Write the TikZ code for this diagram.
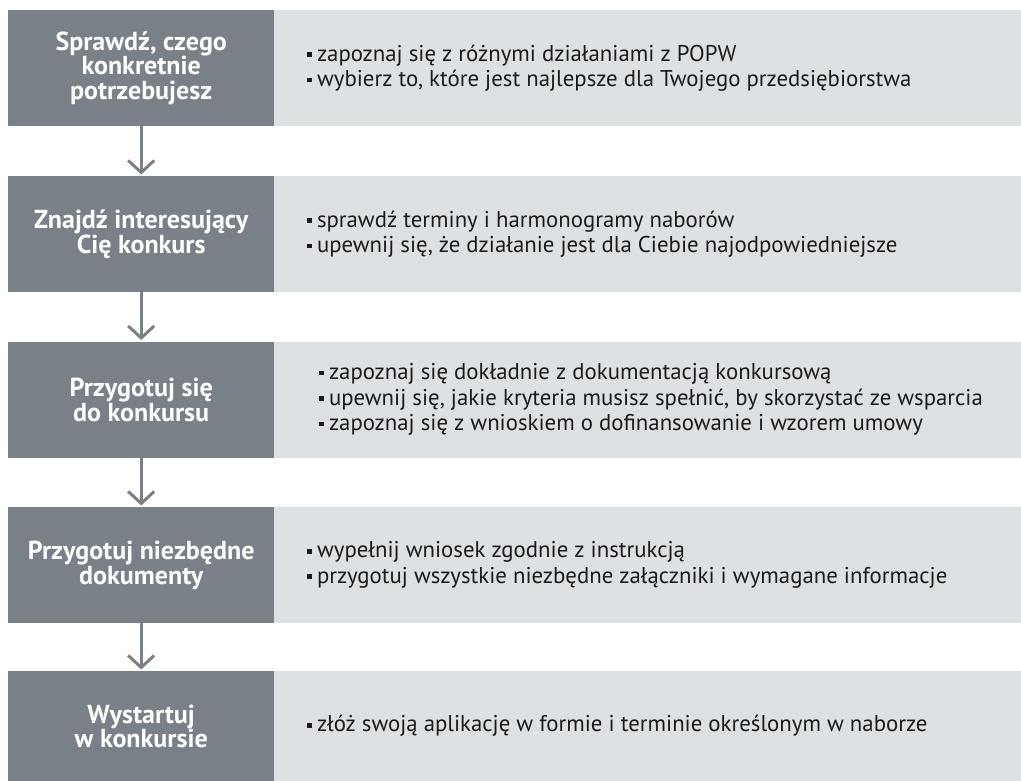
\documentclass[tikz,border=0pt]{standalone}
\usepackage{fontspec}
\setmainfont{PT Sans}
\usetikzlibrary{arrows.meta}
\definecolor{dark}{RGB}{122,128,135}
\definecolor{light}{RGB}{221,225,228}
\definecolor{ink}{RGB}{26,26,26}
\newcommand{\blt}{\rule[4.2pt]{4.8pt}{4.8pt}\hspace{5pt}}
\begin{document}
\begin{tikzpicture}[x=1pt,y=-1pt,
 leftbox/.style={fill=dark, draw=none, minimum width=266pt, minimum height=116pt, inner sep=0pt, text=white, font=\bfseries\fontsize{26}{24.5}\selectfont, align=center, anchor=north west},
 rightbox/.style={fill=light, draw=none, minimum width=747pt, minimum height=116pt, inner sep=0pt, anchor=north west},
 bullets/.style={text=ink, font=\fontsize{22.8}{25.5}\selectfont, align=left, anchor=west, inner sep=0pt},
 flow/.style={draw=dark, line width=3pt, -{Straight Barb[length=12pt,width=26pt]}, shorten >=1.5pt}
]
\useasboundingbox (0,0) rectangle (1021,781);

\node[rightbox] (R1) at (274,10) {};
\node[rightbox] (R2) at (274,176) {};
\node[rightbox] (R3) at (274,341.5) {};
\node[rightbox] (R4) at (274,507) {};
\node[rightbox, minimum height=110pt] (R5) at (274,671) {};

\node[leftbox] (L1) at (8,10) {Sprawdź, czego\\konkretnie\\potrzebujesz};
\node[leftbox] (L2) at (8,176) {Znajdź interesujący\\Cię konkurs};
\node[leftbox] (L3) at (8,341.5) {Przygotuj się\\do konkursu};
\node[leftbox] (L4) at (8,507) {Przygotuj niezbędne\\dokumenty};
\node[leftbox, minimum height=110pt] (L5) at (8,671) {Wystartuj\\w konkursie};

\node[bullets] (T1) at (307,68) {\blt zapoznaj się z różnymi działaniami z POPW\\\blt wybierz to, które jest najlepsze dla Twojego przedsiębiorstwa};
\node[bullets] (T2) at (307,234) {\blt sprawdź terminy i harmonogramy naborów\\\blt upewnij się, że działanie jest dla Ciebie najodpowiedniejsze};
\node[bullets] (T3) at (319,399.5) {\blt zapoznaj się dokładnie z dokumentacją konkursową\\\blt upewnij się, jakie kryteria musisz spełnić, by skorzystać ze wsparcia\\\blt zapoznaj się z wnioskiem o dofinansowanie i wzorem umowy};
\node[bullets] (T4) at (307,565) {\blt wypełnij wniosek zgodnie z instrukcją\\\blt przygotuj wszystkie niezbędne załączniki i wymagane informacje};
\node[bullets] (T5) at (307,726) {\blt złóż swoją aplikację w formie i terminie określonym w naborze};

\draw[flow] (L1.south) -- (L2.north);
\draw[flow] (L2.south) -- (L3.north);
\draw[flow] (L3.south) -- (L4.north);
\draw[flow] (L4.south) -- (L5.north);
\end{tikzpicture}
\end{document}
